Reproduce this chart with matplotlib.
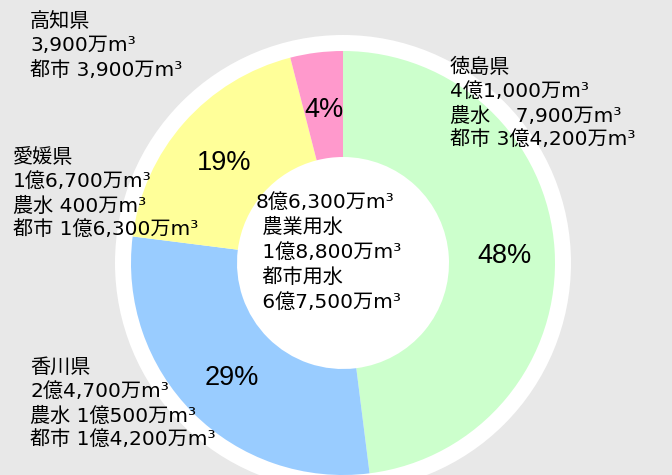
import matplotlib
matplotlib.use("Agg")
import matplotlib.pyplot as plt
from matplotlib.patches import Circle

# DejaVu for digits/latin (wider, like the original), CJK falls through to Noto
plt.rcParams['font.family'] = ['DejaVu Sans', 'Noto Sans CJK JP']

# data (clockwise from top)
prefs = ['徳島県', '香川県', '愛媛県', '高知県']
shares = [48, 29, 19, 4]
share_labels = ['48%', '29%', '19%', '4%']
colors = ['#ccffcc', '#99ccff', '#ffff99', '#ff99cc']

pref_notes = [
    ['徳島県', '4億1,000万m³', '農水    7,900万m³', '都市 3億4,200万m³'],
    ['香川県', '2億4,700万m³', '農水 1億500万m³', '都市 1億4,200万m³'],
    ['愛媛県', '1億6,700万m³', '農水 400万m³', '都市 1億6,300万m³'],
    ['高知県', '3,900万m³', '都市 3,900万m³'],
]
total_note = ['8億6,300万m³', ' 農業用水', ' 1億8,800万m³', ' 都市用水', ' 6億7,500万m³']

W, H = 672, 475
fig = plt.figure(figsize=(W / 100, H / 100), dpi=100)
fig.patch.set_facecolor('#e8e8e8')
ax = fig.add_axes([0, 0, 1, 1])

cx, cy = 343, H - 263
r_out, r_ring, r_hole = 212, 228, 106

ax.add_patch(Circle((cx, cy), r_ring, facecolor='white', edgecolor='none', zorder=0))
wedges, _ = ax.pie(shares, colors=colors, startangle=90, counterclock=False,
                   center=(cx, cy), radius=r_out,
                   wedgeprops=dict(width=r_out - r_hole, edgecolor='none'))
for w in wedges:
    w.set_zorder(1)

ax.set_xlim(0, W)
ax.set_ylim(0, H)
ax.set_aspect('auto')
ax.axis('off')

# percent labels inside the ring
pct_pos = [(504, 256), (232, 378), (224, 163), (324, 110)]
for (x, y), s in zip(pct_pos, share_labels):
    ax.text(x, H - y, s, ha='center', va='center', fontsize=19.5,
            family='Liberation Sans', zorder=3)


def draw_block(x, y0, lines, pitch):
    # y0 = baseline of the first line, in pixels from the top
    for i, line in enumerate(lines):
        ax.text(x, H - (y0 + i * pitch), line, ha='left', va='baseline',
                fontsize=14.5, zorder=3)


# prefecture notes (left edge, first baseline)
note_pos = [(450, 73), (30, 373), (13, 163), (30, 27)]
for (x, y), lines in zip(note_pos, pref_notes):
    draw_block(x, y, lines, 24.3)

draw_block(256, 208, total_note, 25)

fig.savefig('out.png', dpi=100, facecolor=fig.get_facecolor())
